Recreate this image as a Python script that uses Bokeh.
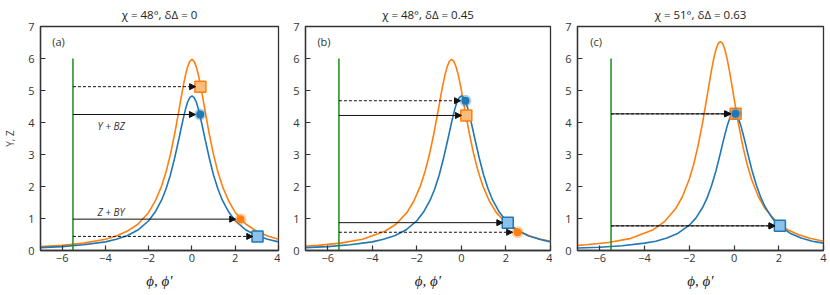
from bokeh.plotting import figure
from bokeh.layouts import row
from bokeh.models import Range1d, Label, Arrow, NormalHead, FixedTicker
from bokeh.embed import file_html
from bokeh.resources import INLINE

# ---------------- data ----------------
x_ticks = [-6, -4, -2, 0, 2, 4]
x_tick_labels = ["\u22126", "\u22124", "\u22122", "0", "2", "4"]
y_ticks = [0, 1, 2, 3, 4, 5, 6, 7]

titles = ["\u03c7 = 48\u00b0, \u03b4\u0394 = 0",
          "\u03c7 = 48\u00b0, \u03b4\u0394 = 0.45",
          "\u03c7 = 51\u00b0, \u03b4\u0394 = 0.63"]
panel_tags = ["(a)", "(b)", "(c)"]
x_label = "\u03d5, \u03d5\u2032"
y_label = "Y, Z"

# shared phi grid (curves peaked near 0)
x_sym = [-7, -6, -5, -4, -3.5, -3, -2.5, -2, -1.7, -1.4, -1.2, -1.0, -0.8, -0.6, -0.5,
         -0.4, -0.3, -0.2, -0.1, 0, 0.1, 0.2, 0.3, 0.4, 0.5, 0.6, 0.8, 1.0, 1.2, 1.4,
         1.7, 2.0, 2.5, 3.0, 3.5, 4.0]

# panel (a)
orange_a = [0.12, 0.16, 0.23, 0.35, 0.45, 0.60, 0.82, 1.19, 1.54, 2.02, 2.45, 2.99, 3.64,
            4.39, 4.78, 5.15, 5.48, 5.74, 5.91, 5.97, 5.91, 5.74, 5.48, 5.15, 4.78, 4.39,
            3.64, 2.99, 2.45, 2.02, 1.54, 1.19, 0.82, 0.60, 0.45, 0.35]
blue_a = [0.09, 0.12, 0.18, 0.27, 0.35, 0.46, 0.64, 0.93, 1.20, 1.58, 1.92, 2.35, 2.89,
          3.50, 3.82, 4.13, 4.41, 4.64, 4.78, 4.83, 4.78, 4.64, 4.41, 4.13, 3.82, 3.50,
          2.89, 2.35, 1.92, 1.58, 1.20, 0.93, 0.64, 0.46, 0.35, 0.27]

# panel (b)
x_orange_b = [-7, -6.44, -5.44, -4.44, -3.44, -2.94, -2.44, -2.14, -1.84, -1.64, -1.44,
              -1.24, -1.04, -0.94, -0.84, -0.74, -0.64, -0.54, -0.44, -0.34, -0.24, -0.14,
              -0.04, 0.06, 0.16, 0.36, 0.56, 0.76, 0.96, 1.26, 1.56, 2.06, 2.56, 3.06,
              3.56, 4.0]
orange_b = [0.14, 0.16, 0.23, 0.35, 0.60, 0.82, 1.19, 1.54, 2.02, 2.45, 2.99, 3.64, 4.39,
            4.78, 5.15, 5.48, 5.74, 5.91, 5.97, 5.91, 5.74, 5.48, 5.15, 4.78, 4.39, 3.64,
            2.99, 2.45, 2.02, 1.54, 1.19, 0.82, 0.60, 0.45, 0.35, 0.29]
blue_b = [0.09, 0.12, 0.18, 0.27, 0.35, 0.46, 0.64, 0.93, 1.20, 1.58, 1.92, 2.35, 2.89,
          3.50, 3.82, 4.13, 4.41, 4.64, 4.78, 4.83, 4.78, 4.64, 4.41, 4.13, 3.82, 3.50,
          2.89, 2.35, 1.92, 1.58, 1.20, 0.93, 0.64, 0.46, 0.35, 0.27]

# panel (c)
x_orange_c = [-7, -6.61, -5.61, -4.61, -3.61, -3.11, -2.61, -2.31, -2.01, -1.81, -1.61,
              -1.41, -1.21, -1.11, -1.01, -0.91, -0.81, -0.71, -0.61, -0.51, -0.41, -0.31,
              -0.21, -0.11, -0.01, 0.19, 0.39, 0.59, 0.79, 1.09, 1.39, 1.89, 2.39, 2.89,
              3.39, 4.0]
orange_c = [0.16, 0.18, 0.25, 0.38, 0.65, 0.90, 1.31, 1.68, 2.21, 2.68, 3.27, 3.98, 4.80,
            5.22, 5.63, 5.99, 6.28, 6.47, 6.53, 6.47, 6.28, 5.99, 5.63, 5.22, 4.80, 3.98,
            3.27, 2.68, 2.21, 1.68, 1.31, 0.90, 0.65, 0.49, 0.38, 0.29]
blue_c = [0.08, 0.10, 0.15, 0.23, 0.29, 0.39, 0.54, 0.79, 1.02, 1.35, 1.65, 2.04, 2.51,
          3.07, 3.37, 3.65, 3.91, 4.12, 4.25, 4.30, 4.25, 4.12, 3.91, 3.65, 3.37, 3.07,
          2.51, 2.04, 1.65, 1.35, 1.02, 0.79, 0.54, 0.39, 0.29, 0.23]

# green reference line (phi start) and its top
green_x = -5.5
green_top = 6.0

# markers: (x, y) per panel
orange_square = [(0.39, 5.12), (0.22, 4.22), (0.07, 4.27)]
blue_circle = [(0.38, 4.25), (0.18, 4.68), (0.07, 4.27)]
orange_circle = [(2.24, 0.98), (2.52, 0.57), None]
blue_square = [(3.03, 0.44), (2.08, 0.87), (2.05, 0.77)]

# arrows: (target, dashed)
arrows = [
    [("orange_square", True), ("blue_circle", False), ("orange_circle", False), ("blue_square", True)],
    [("blue_circle", True), ("orange_square", False), ("blue_square", False), ("orange_circle", True)],
    [("orange_square", True), ("blue_circle", False), ("blue_square", True), ("blue_square", False)],
]

# in-panel texts for panel (a)
annot_texts = ["Y + BZ", "Z + BY"]
annot_pos = [(-3.73, 3.89), (-3.74, 1.19)]

BLUE = "#1f77b4"
ORANGE = "#ff7f0e"
FRAME = "#333333"
INK = "#111111"

curves = [
    (x_sym, orange_a, x_sym, blue_a),
    (x_orange_b, orange_b, x_sym, blue_b),
    (x_orange_c, orange_c, x_sym, blue_c),
]

markers = {"orange_square": orange_square, "blue_circle": blue_circle,
           "orange_circle": orange_circle, "blue_square": blue_square}


def make_panel(i, left_border, frame_w, right_border):
    p = figure(width=left_border + frame_w + right_border, height=295,
               x_range=Range1d(-7, 4), y_range=Range1d(0, 7),
               output_backend="svg", toolbar_location=None,
               min_border_left=left_border, min_border_right=right_border,
               min_border_top=22, min_border_bottom=45,
               title=titles[i])
    p.title.align = "center"
    p.title.text_font = "Open Sans"
    p.title.text_font_size = "11.5px"
    p.title.text_font_style = "normal"
    p.title.text_color = "#222222"
    p.title.standoff = 9
    p.grid.visible = False
    p.outline_line_color = FRAME
    p.outline_line_width = 1.3
    p.background_fill_color = "white"
    p.border_fill_color = "white"
    for ax in (p.xaxis[0], p.yaxis[0]):
        ax.axis_line_color = FRAME
        ax.axis_line_width = 1.3
        ax.major_tick_line_color = FRAME
        ax.major_tick_line_width = 1.2
        ax.major_tick_in = 5
        ax.major_tick_out = 0
        ax.minor_tick_in = 0
        ax.minor_tick_out = 0
        ax.major_label_text_font = "Open Sans"
        ax.major_label_text_font_size = "11px"
        ax.major_label_text_color = "#333333"
    p.xaxis.ticker = FixedTicker(ticks=x_ticks)
    p.xaxis.major_label_overrides = dict(zip(x_ticks, x_tick_labels))
    p.xaxis.major_label_standoff = 3
    p.xaxis.axis_label = x_label
    p.xaxis.axis_label_text_font = "Liberation Serif"
    p.xaxis.axis_label_text_font_style = "italic"
    p.xaxis.axis_label_text_font_size = "15px"
    p.xaxis.axis_label_text_color = "#222222"
    p.xaxis.axis_label_standoff = 8
    p.yaxis.ticker = FixedTicker(ticks=y_ticks)
    p.yaxis.major_label_standoff = 6
    if i == 0:
        p.yaxis.axis_label = y_label
        p.yaxis.axis_label_text_font = "Open Sans"
        p.yaxis.axis_label_text_font_style = "normal"
        p.yaxis.axis_label_text_font_size = "10px"
        p.yaxis.axis_label_text_color = "#444444"
        p.yaxis.axis_label_standoff = 8

    xo, yo, xb, yb = curves[i]
    p.line(xo, yo, line_color=ORANGE, line_width=1.6)
    p.line(xb, yb, line_color=BLUE, line_width=1.6)

    p.line([green_x, green_x], [0, green_top], line_color="#1e8c1e", line_width=1.5)

    for name, dashed in arrows[i]:
        mx, my = markers[name][i]
        p.add_layout(Arrow(end=NormalHead(size=6, fill_color=INK, line_color=INK, line_width=1),
                           x_start=green_x, y_start=my, x_end=mx - 0.22, y_end=my,
                           line_color=INK, line_width=1,
                           line_dash="3 2" if dashed else "solid"))

    # markers
    if orange_square[i] is not None:
        x, y = orange_square[i]
        p.scatter([x], [y], marker="square", size=11, fill_color="#ffbb78",
                  line_color=ORANGE, line_width=1.5)
    if orange_circle[i] is not None:
        x, y = orange_circle[i]
        p.scatter([x], [y], marker="circle", size=12, fill_color=ORANGE, fill_alpha=0.35, line_color=None)
        p.scatter([x], [y], marker="circle", size=8, fill_color=ORANGE, line_color=None)
    if blue_square[i] is not None:
        x, y = blue_square[i]
        p.scatter([x], [y], marker="square", size=11, fill_color="#8cc2ea",
                  line_color=BLUE, line_width=1.5)
    if blue_circle[i] is not None:
        x, y = blue_circle[i]
        p.scatter([x], [y], marker="circle", size=12, fill_color=BLUE, fill_alpha=0.35, line_color=None)
        p.scatter([x], [y], marker="circle", size=8, fill_color=BLUE, line_color=None)

    # panel tag
    p.add_layout(Label(x=-6.17, y=6.54, text=panel_tags[i], text_align="center",
                       text_baseline="middle", text_font="Open Sans",
                       text_font_size="11px", text_color="#333333"))
    if i == 0:
        for t, (tx, ty) in zip(annot_texts, annot_pos):
            p.add_layout(Label(x=tx, y=ty, text=t, text_align="center",
                               text_baseline="middle", text_font="Open Sans",
                               text_font_style="italic", text_font_size="10px",
                               text_color="#333333"))
    return p


pa = make_panel(0, 33, 245, 2)
pb = make_panel(1, 25, 245, 2)
pc = make_panel(2, 25, 246, 7)

layout = row(pa, pb, pc)
open("out.html", "w").write(file_html(layout, INLINE))
